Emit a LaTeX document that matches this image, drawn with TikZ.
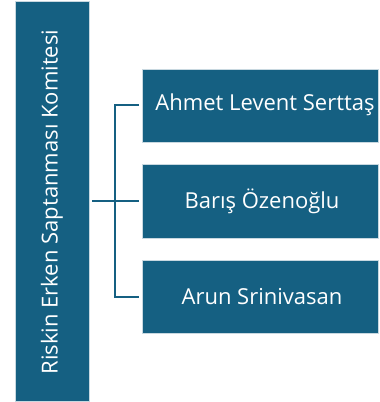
\documentclass[tikz,border=0pt]{standalone}
\usepackage{fontspec}
\setmainfont{Open Sans}
\definecolor{boxblue}{HTML}{156082}
\definecolor{edge}{HTML}{C8D8E0}
\begin{document}
\begin{tikzpicture}[x=1pt,y=-1pt,
  box/.style={fill=boxblue,draw=edge,line width=0.7pt},
  lbl/.style={text=white,font=\fontsize{22}{24}\selectfont,inner sep=0pt},
  conn/.style={draw=boxblue,line width=2.2pt}]
\useasboundingbox (0,0) rectangle (380,402);
\path[box] (15,1) rectangle (89,401);
\node[lbl,rotate=90] (head) at (52,202) {Riskin Erken Saptanması Komitesi};
\path[box] (142,69) rectangle (378,142);
\path[box] (142,164) rectangle (378,238);
\path[box] (142,260) rectangle (378,333);
\node[lbl] (m1) at (265,105) {Ahmet Levent Serttaş};
\node[lbl] (m2) at (262,201) {Barış Özenoğlu};
\node[lbl] (m3) at (262,297) {Arun Srinivasan};
\coordinate (s) at (92,201);
\coordinate (j) at (115,201);
\coordinate (t1) at (115,105);
\coordinate (t3) at (115,297);
\coordinate (e1) at (139,105);
\coordinate (e2) at (139,201);
\coordinate (e3) at (139,297);
\draw[conn] (s) -- (e2);
\draw[conn] (e1) -- (t1) -- (t3) -- (e3);
\end{tikzpicture}
\end{document}
